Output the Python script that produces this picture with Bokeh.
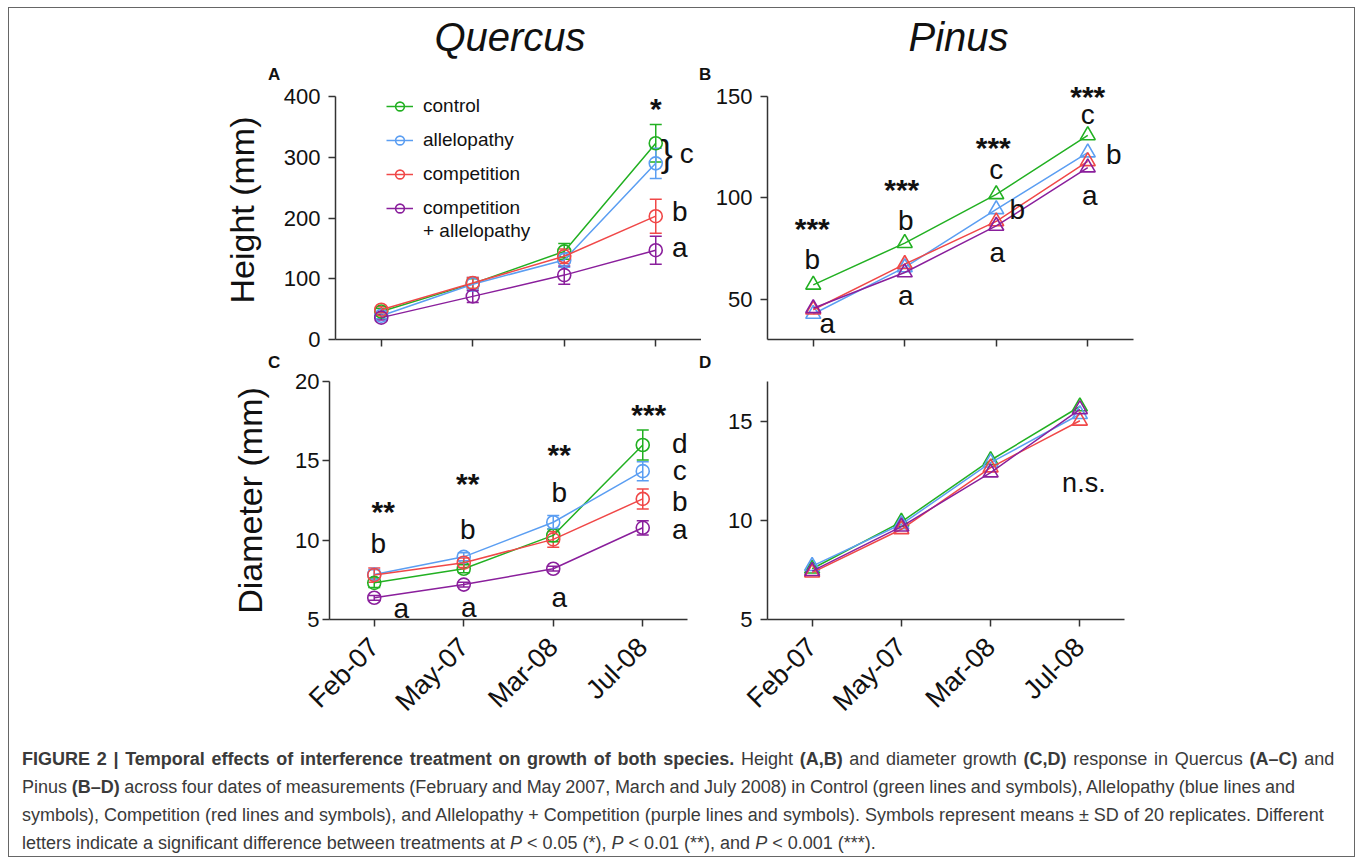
import math
from bokeh.plotting import figure
from bokeh.models import (ColumnDataSource, FactorRange, Range1d, FixedTicker,
                          LabelSet, Legend, LegendItem, Whisker, TeeHead, Div)
from bokeh.layouts import column, row
from bokeh.core.properties import value
from bokeh.embed import file_html
from bokeh.resources import INLINE

FONT = "Liberation Sans"

# ---------------- data ----------------
dates = ["Feb-07", "May-07", "Mar-08", "Jul-08"]
series_names = ["control", "allelopathy", "competition", "competition"]
legend_extra_line = "+ allelopathy"
series_colors = ["#22b022", "#5b9ef2", "#f04848", "#8a1f9c"]

# (A) Quercus height (mm): means and SD
q_height_control = [46, 92, 145, 323]
q_height_control_sd = [5, 8, 13, 31]
q_height_allelopathy = [39, 91, 131, 290]
q_height_allelopathy_sd = [5, 11, 12, 25]
q_height_competition = [49, 93, 137, 203]
q_height_competition_sd = [5, 9, 12, 28]
q_height_both = [36, 71, 106, 147]
q_height_both_sd = [4, 10, 15, 23]

# (B) Pinus height (mm)
p_height_control = [57.0, 77.6, 101.7, 130.8]
p_height_allelopathy = [42.6, 65.6, 94.3, 122.3]
p_height_competition = [44.7, 67.2, 88.3, 118.0]
p_height_both = [45.4, 63.1, 86.1, 114.9]

# (C) Quercus diameter (mm): means and SD
q_diam_control = [7.31, 8.2, 10.3, 16.0]
q_diam_control_sd = [0.3, 0.25, 0.4, 0.95]
q_diam_allelopathy = [7.84, 8.95, 11.13, 14.35]
q_diam_allelopathy_sd = [0.3, 0.25, 0.42, 0.6]
q_diam_competition = [7.8, 8.58, 10.05, 12.6]
q_diam_competition_sd = [0.45, 0.3, 0.5, 0.63]
q_diam_both = [6.37, 7.2, 8.2, 10.78]
q_diam_both_sd = [0.15, 0.15, 0.15, 0.45]

# (D) Pinus diameter (mm)
p_diam_control = [7.56, 9.92, 13.03, 15.74]
p_diam_allelopathy = [7.69, 9.8, 12.91, 15.35]
p_diam_competition = [7.36, 9.55, 12.66, 15.02]
p_diam_both = [7.44, 9.68, 12.41, 15.6]

# y axes (visible axis extent, ticks)
ticks_a = [0, 100, 200, 300, 400]
ticks_b = [50, 100, 150]
ticks_c = [5, 10, 15, 20]
ticks_d = [5, 10, 15]
axis_a = (0, 400)
axis_b = (30, 150)
axis_c = (5, 20)
axis_d = (5, 17)

# significance annotations: text, date, y value, pixel shift
a_stars = ["*"]; a_stars_x = ["Jul-08"]; a_stars_y = [384]; a_stars_dx = [0]
a_letters = ["c", "b", "a"]; a_letters_x = ["Jul-08"] * 3; a_letters_y = [306, 211, 151]; a_letters_dx = [31, 24, 24]
a_brace = ["}"]; a_brace_x = ["Jul-08"]; a_brace_y = [306]; a_brace_dx = [11]

b_stars = ["***"] * 4; b_stars_x = dates; b_stars_y = [86, 105, 126, 151.0]; b_stars_dx = [-1, -3, -3, 0]
b_letters = ["b", "a", "b", "a", "c", "b", "a", "c", "b", "a"]
b_letters_x = ["Feb-07", "Feb-07", "May-07", "May-07", "Mar-08", "Mar-08", "Mar-08", "Jul-08", "Jul-08", "Jul-08"]
b_letters_y = [69.7, 37.7, 89, 51.5, 114, 94.3, 73, 141, 121.4, 101]
b_letters_dx = [-1, 14, 1, 1, 0, 21, 1, 0, 26, 2]

c_stars = ["**", "**", "**", "***"]; c_stars_x = dates; c_stars_y = [11.93, 13.72, 15.5, 18.03]; c_stars_dx = [9, 4, 6, 6]
c_letters = ["b", "a", "b", "a", "b", "a", "d", "c", "b", "a"]
c_letters_x = ["Feb-07", "Feb-07", "May-07", "May-07", "Mar-08", "Mar-08", "Jul-08", "Jul-08", "Jul-08", "Jul-08"]
c_letters_y = [9.79, 5.68, 10.67, 5.78, 12.99, 6.37, 16.09, 14.39, 12.42, 10.67]
c_letters_dx = [4, 27, 4, 5, 6, 6, 37, 37, 37, 37]

d_note = ["n.s."]; d_note_x = ["Jul-08"]; d_note_y = [11.87]; d_note_dx = [4]

species_titles = ["Quercus", "Pinus"]
panel_letters = ["A", "B", "C", "D"]

caption_lines = [
    "<b>FIGURE 2 | Temporal effects of interference treatment on growth of both species.</b> "
    "Height <b>(A,B)</b> and diameter growth <b>(C,D)</b> response in Quercus <b>(A–C)</b> and",
    "Pinus <b>(B–D)</b> across four dates of measurements (February and May 2007, March and July 2008) "
    "in Control (green lines and symbols), Allelopathy (blue lines and",
    "symbols), Competition (red lines and symbols), and Allelopathy + Competition (purple lines and "
    "symbols). Symbols represent means ± SD of 20 replicates. Different",
    "letters indicate a significant difference between treatments at <i>P</i> &lt; 0.05 (*), "
    "<i>P</i> &lt; 0.01 (**), and <i>P</i> &lt; 0.001 (***).",
]
caption_word_spacing = [1.7, -0.4, 0, 0]

AXIS_COLOR = "#333333"
TEXT_COLOR = "#111111"
STAR_SHIFT = -2


def base_fig(width, height, borders, axis_extent, y_ticks, x_labels, tick_standoff, headroom=0):
    left, right, top, bottom = borders
    frame_h = height - top - bottom
    lo, hi = axis_extent
    units_per_px = (hi - lo) / (frame_h - headroom)
    y_end = hi + headroom * units_per_px
    p = figure(width=width, height=height, x_range=FactorRange(*dates),
               y_range=Range1d(lo, y_end), output_backend="svg", toolbar_location=None,
               min_border_left=left, min_border_right=right,
               min_border_top=top, min_border_bottom=bottom)
    p.outline_line_color = None
    p.xgrid.visible = False
    p.ygrid.visible = False
    p.background_fill_color = "white"
    p.border_fill_color = "white"
    for ax in (p.xaxis[0], p.yaxis[0]):
        ax.axis_line_color = AXIS_COLOR
        ax.axis_line_width = 1.5
        ax.major_tick_line_color = AXIS_COLOR
        ax.major_tick_line_width = 1.5
        ax.major_tick_in = 0
        ax.major_tick_out = 7
        ax.minor_tick_line_color = None
    p.yaxis.ticker = FixedTicker(ticks=y_ticks, minor_ticks=[])
    p.yaxis.bounds = axis_extent
    p.yaxis.major_label_text_font = FONT
    p.yaxis.major_label_text_font_size = "22px"
    p.yaxis.major_label_text_color = TEXT_COLOR
    p.yaxis.major_label_standoff = tick_standoff
    if x_labels:
        p.xaxis.major_label_orientation = math.pi / 4
        p.xaxis.major_label_text_font = FONT
        p.xaxis.major_label_text_font_size = "27px"
        p.xaxis.major_label_text_color = TEXT_COLOR
        p.xaxis.major_label_standoff = 16
    else:
        p.xaxis.major_label_text_font_size = "0px"
        p.xaxis.major_label_text_color = None
        p.xaxis.major_label_standoff = 0
    return p


def draw_series(p, values_list, sds_list, marker, size):
    items = []
    for name, color, vals, sds in zip(series_names, series_colors, values_list, sds_list):
        data = dict(x=dates, y=vals)
        if sds is not None:
            data["upper"] = [v + e for v, e in zip(vals, sds)]
            data["lower"] = [v - e for v, e in zip(vals, sds)]
        src = ColumnDataSource(data)
        if sds is not None:
            w = Whisker(source=src, base="x", upper="upper", lower="lower",
                        line_color=color, line_width=1.5,
                        upper_head=TeeHead(size=12, line_color=color, line_width=1.5),
                        lower_head=TeeHead(size=12, line_color=color, line_width=1.5))
            p.add_layout(w)
        ln = p.line("x", "y", source=src, line_color=color, line_width=1.5)
        sc = p.scatter("x", "y", source=src, marker=marker, size=size, fill_color=None,
                       line_color=color, line_width=1.6)
        items.append(LegendItem(label=name, renderers=[ln, sc]))
    return items


def add_marks(p, texts, xs, ys, dxs, size, bold=False, y_off=0):
    src = ColumnDataSource(dict(x=list(xs), y=ys, text=texts, dx=dxs))
    ls = LabelSet(source=src, x="x", y="y", text="text", x_offset="dx", y_offset=y_off,
                  text_font=value(FONT), text_font_size=size,
                  text_font_style="bold" if bold else "normal",
                  text_align="center", text_baseline="middle", text_color=TEXT_COLOR)
    p.add_layout(ls)


def style_ylabel(p, text, standoff):
    p.yaxis.axis_label = text
    p.yaxis.axis_label_text_font = FONT
    p.yaxis.axis_label_text_font_size = "34px"
    p.yaxis.axis_label_text_font_style = "normal"
    p.yaxis.axis_label_text_color = TEXT_COLOR
    p.yaxis.axis_label_standoff = standoff


def legend_box(items, vx, vy):
    return Legend(items=items, location=(vx, vy), orientation="vertical", padding=0, spacing=12,
                  glyph_width=27, glyph_height=22, label_height=22, label_standoff=10,
                  label_text_font=FONT, label_text_font_size="19px", label_text_color=TEXT_COLOR,
                  border_line_color=None, background_fill_alpha=0)


def text_span(text, left, baseline, size, style="", center_width=None):
    top = baseline - 0.8465 * size
    extra = ""
    if center_width:
        extra = f"width:{center_width}px;text-align:center;"
    return (f'<span style="position:absolute;left:{left}px;top:{top:.1f}px;{extra}'
            f'font-family:\'Liberation Sans\';font-size:{size}px;line-height:{size}px;'
            f'color:{TEXT_COLOR};white-space:nowrap;{style}">{text}</span>')


def abs_div(spans, width, height):
    html = (f'<div style="position:relative;width:{width}px;height:{height}px;margin:0;padding:0;">'
            + "".join(spans) + "</div>")
    return Div(text=html, width=width, height=height, margin=0)


# ---------------- header (species titles + panel letters A, B) ----------------
header = abs_div([
    text_span(species_titles[0], 401, 43, 40, "font-style:italic;", 200),
    text_span(species_titles[1], 849.5, 43, 40, "font-style:italic;", 200),
    text_span(panel_letters[0], 259, 72, 17, "font-weight:bold;"),
    text_span(panel_letters[1], 690, 72, 17, "font-weight:bold;"),
], 1345, 72)

# ---------------- panel A ----------------
pa = base_fig(692, 272, (326, 0, 0, 13), axis_a, ticks_a, False, 8, headroom=16)
items = draw_series(pa,
                    [q_height_control, q_height_allelopathy, q_height_competition, q_height_both],
                    [q_height_control_sd, q_height_allelopathy_sd, q_height_competition_sd, q_height_both_sd],
                    "circle", 13)
style_ylabel(pa, "Height (mm)", 20)
pa.add_layout(legend_box(items, 51, 120))
pa.add_layout(legend_box([LegendItem(label=legend_extra_line, renderers=[])], 51, 97))
add_marks(pa, a_stars, a_stars_x, a_stars_y, a_stars_dx, "30px", True, STAR_SHIFT)
add_marks(pa, a_letters, a_letters_x, a_letters_y, a_letters_dx, "28px")
add_marks(pa, a_brace, a_brace_x, a_brace_y, a_brace_dx, "36px")

# ---------------- panel B ----------------
pb = base_fig(653, 272, (66, 221, 0, 13), axis_b, ticks_b, False, 8, headroom=16)
draw_series(pb, [p_height_control, p_height_allelopathy, p_height_competition, p_height_both],
            [None] * 4, "triangle", 15)
add_marks(pb, b_stars, b_stars_x, b_stars_y, b_stars_dx, "30px", True, STAR_SHIFT)
add_marks(pb, b_letters, b_letters_x, b_letters_y, b_letters_dx, "28px")

# ---------------- letters C, D ----------------
mid = abs_div([
    text_span(panel_letters[2], 259, 16, 17, "font-weight:bold;"),
    text_span(panel_letters[3], 690, 16, 17, "font-weight:bold;"),
], 1345, 16)

# ---------------- panel C ----------------
pc = base_fig(692, 365, (320, 14, 13, 114), axis_c, ticks_c, True, 3)
draw_series(pc, [q_diam_control, q_diam_allelopathy, q_diam_competition, q_diam_both],
            [q_diam_control_sd, q_diam_allelopathy_sd, q_diam_competition_sd, q_diam_both_sd],
            "circle", 13)
style_ylabel(pc, "Diameter (mm)", 23)
add_marks(pc, c_stars, c_stars_x, c_stars_y, c_stars_dx, "30px", True, STAR_SHIFT)
add_marks(pc, c_letters, c_letters_x, c_letters_y, c_letters_dx, "28px")

# ---------------- panel D ----------------
pd_ = base_fig(653, 365, (66, 230, 13, 114), axis_d, ticks_d, True, 8)
draw_series(pd_, [p_diam_control, p_diam_allelopathy, p_diam_competition, p_diam_both],
            [None] * 4, "triangle", 15)
add_marks(pd_, d_note, d_note_x, d_note_y, d_note_dx, "27px")

# ---------------- caption ----------------
caption_html = "<br>".join(
    f'<span style="word-spacing:{ws}px;">{line}</span>'
    for line, ws in zip(caption_lines, caption_word_spacing))
caption = Div(
    text=('<div style="font-family:\'Liberation Sans\';font-size:18px;line-height:28px;'
          'color:#3a3a3a;white-space:nowrap;padding:12px 0 0 13px;">'
          + caption_html + "</div>"),
    width=1345, height=123, margin=0)

layout = column(header, row(pa, pb), mid, row(pc, pd_), caption,
                styles={"border": "1px solid #666666", "background-color": "white",
                        "margin-left": "8px", "margin-top": "7px"})

open("out.html", "w").write(file_html(layout, INLINE))
